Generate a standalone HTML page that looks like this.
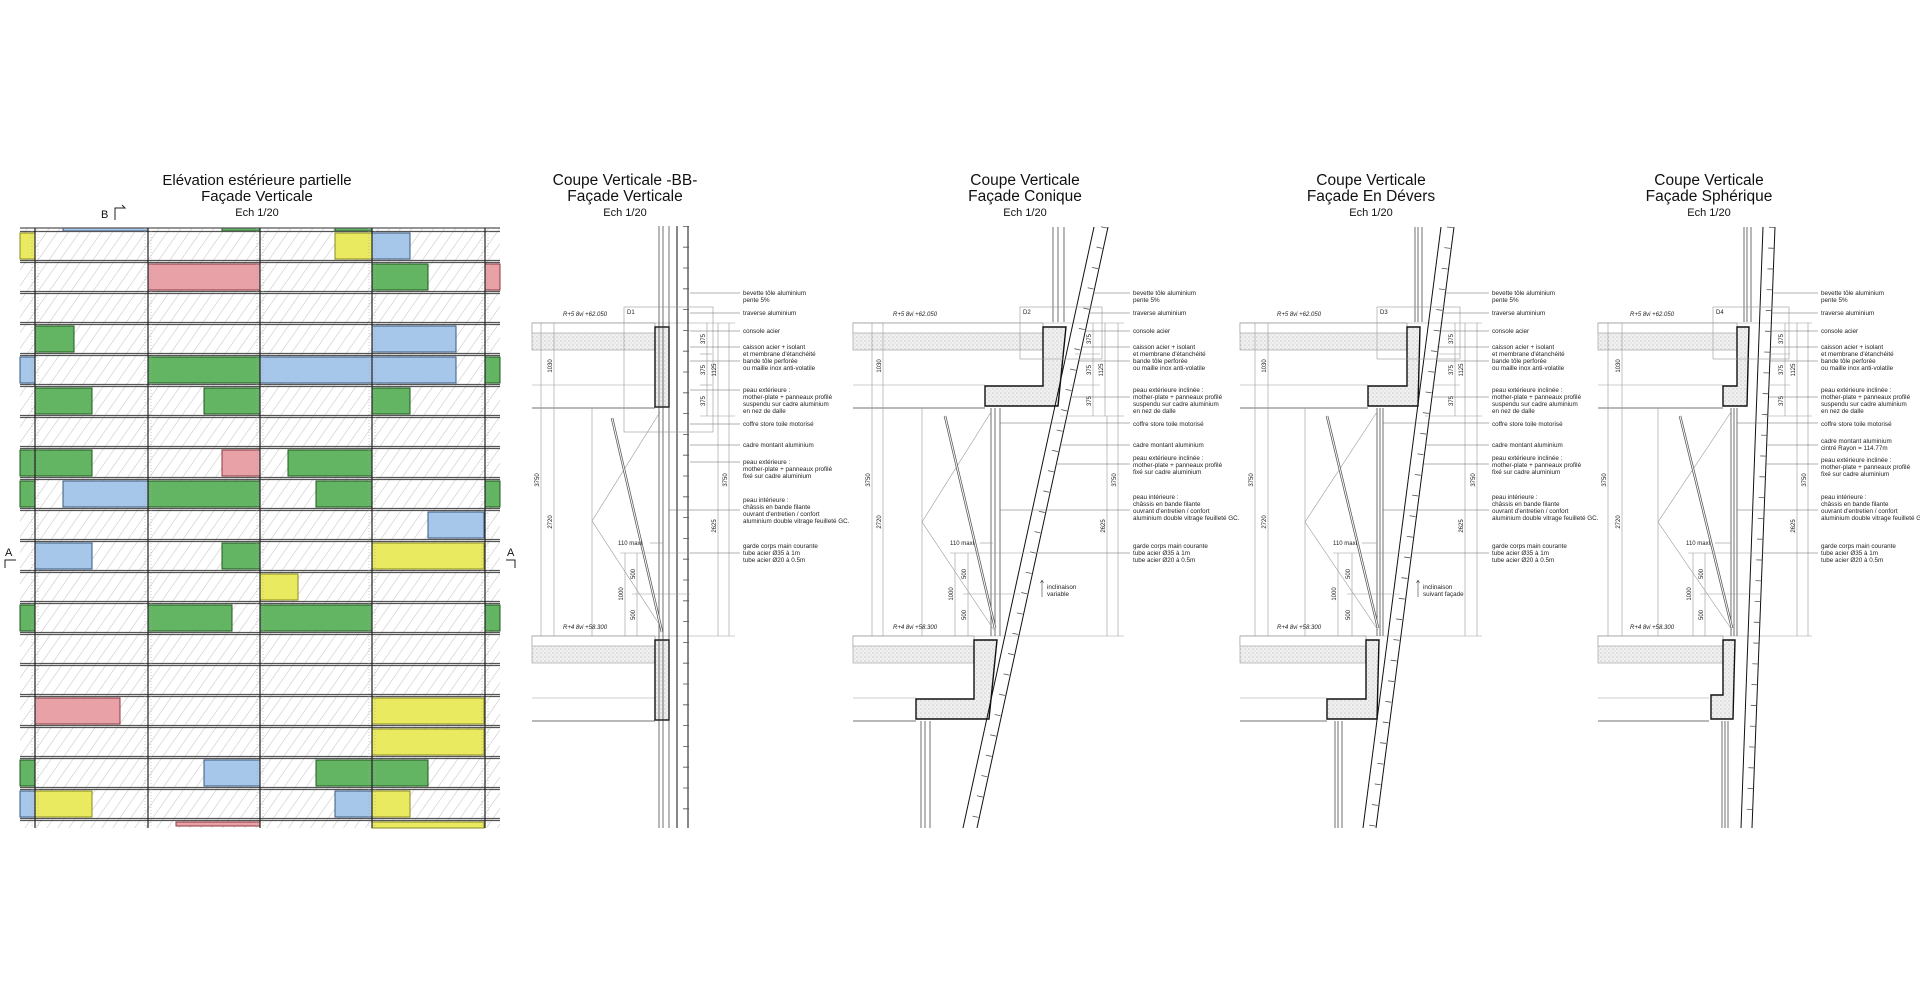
<!DOCTYPE html>
<html><head><meta charset="utf-8">
<style>
html,body{margin:0;padding:0;background:#fff;}
svg{display:block;}
.t{font-family:"Liberation Sans",sans-serif;fill:#111;}
.lb{font-family:"Liberation Sans",sans-serif;font-size:6.3px;fill:#222;}
.dm{font-family:"Liberation Sans",sans-serif;font-size:6px;fill:#222;}
.thin{stroke:#999;stroke-width:.6;fill:none;}
.med{stroke:#444;stroke-width:.8;fill:none;}
.blk{stroke:#111;stroke-width:1.4;}
.tk{stroke:#555;stroke-width:6;stroke-dasharray:.8 20;}
</style></head><body>
<svg width="1920" height="1000" viewBox="0 0 1920 1000" xmlns="http://www.w3.org/2000/svg">
<defs>
<pattern id="hat" width="9" height="9" patternUnits="userSpaceOnUse" patternTransform="rotate(35)">
<line x1="0" y1="0" x2="0" y2="9" stroke="#c4c4c4" stroke-width="1.1"/>
</pattern>
<pattern id="stp" width="4" height="4" patternUnits="userSpaceOnUse">
<rect width="4" height="4" fill="#f0f0f0"/><circle cx="1" cy="1" r=".6" fill="#bbb"/><circle cx="3" cy="3" r=".5" fill="#c6c6c6"/>
</pattern>
</defs>

<!-- ============ ELEVATION ============ -->
<text class="t" x="257" y="185" font-size="15" text-anchor="middle">Elévation estérieure partielle</text>
<text class="t" x="257" y="201" font-size="15" text-anchor="middle">Façade Verticale</text>
<text class="t" x="257" y="216" font-size="11" text-anchor="middle">Ech 1/20</text>
<text class="t" x="101" y="218" font-size="11">B</text>
<path d="M115 220 V208 H125 l-3 -3" stroke="#222" fill="none" stroke-width="1"/>

<rect x="20" y="228" width="480" height="600" fill="url(#hat)"/>
<g stroke-width="1">
<g fill="#e9ea5f" stroke="#8a8a20">
<rect x="20" y="233" width="15" height="26"/><rect x="335" y="233" width="37" height="26"/>
<rect x="372" y="543" width="112" height="26"/><rect x="260" y="574" width="38" height="26"/>
<rect x="372" y="698" width="112" height="26"/><rect x="372" y="729" width="112" height="26"/>
<rect x="35" y="791" width="57" height="26"/><rect x="372" y="791" width="38" height="26"/>
<rect x="372" y="822" width="112" height="6"/>
</g>
<g fill="#a7c7ea" stroke="#3a5a80">
<rect x="63" y="228" width="85" height="3"/>
<rect x="372" y="233" width="38" height="26"/><rect x="372" y="326" width="84" height="26"/>
<rect x="20" y="357" width="15" height="26"/><rect x="260" y="357" width="112" height="26"/><rect x="372" y="357" width="84" height="26"/>
<rect x="63" y="481" width="85" height="26"/><rect x="428" y="512" width="56" height="26"/>
<rect x="35" y="543" width="57" height="26"/><rect x="204" y="760" width="56" height="26"/>
<rect x="20" y="791" width="15" height="26"/><rect x="335" y="791" width="37" height="26"/>
</g>
<g fill="#63b463" stroke="#1f5a1f">
<rect x="222" y="228" width="38" height="3"/><rect x="335" y="228" width="37" height="3"/>
<rect x="372" y="264" width="56" height="26"/>
<rect x="35" y="326" width="39" height="26"/>
<rect x="148" y="357" width="112" height="26"/><rect x="485" y="357" width="15" height="26"/>
<rect x="35" y="388" width="57" height="26"/><rect x="204" y="388" width="56" height="26"/><rect x="372" y="388" width="38" height="26"/>
<rect x="20" y="450" width="15" height="26"/><rect x="35" y="450" width="57" height="26"/><rect x="288" y="450" width="84" height="26"/>
<rect x="20" y="481" width="15" height="26"/><rect x="148" y="481" width="112" height="26"/><rect x="316" y="481" width="56" height="26"/><rect x="485" y="481" width="15" height="26"/>
<rect x="222" y="543" width="38" height="26"/>
<rect x="20" y="605" width="15" height="26"/><rect x="148" y="605" width="84" height="26"/><rect x="260" y="605" width="112" height="26"/><rect x="485" y="605" width="15" height="26"/>
<rect x="20" y="760" width="15" height="26"/><rect x="316" y="760" width="56" height="26"/><rect x="372" y="760" width="56" height="26"/>
</g>
<g fill="#e9a1a8" stroke="#8a3a40">
<rect x="148" y="264" width="112" height="26"/><rect x="485" y="264" width="15" height="26"/>
<rect x="222" y="450" width="38" height="26"/><rect x="35" y="698" width="85" height="26"/>
<rect x="176" y="822" width="84" height="4"/>
</g>
</g>
<g stroke="#555" stroke-width="1.3">
<line x1="20" y1="228" x2="500" y2="228"/>
<line x1="20" y1="231.5" x2="500" y2="231.5"/><line x1="20" y1="260.5" x2="500" y2="260.5"/>
<line x1="20" y1="262.5" x2="500" y2="262.5"/><line x1="20" y1="291.5" x2="500" y2="291.5"/>
<line x1="20" y1="293.5" x2="500" y2="293.5"/><line x1="20" y1="322.5" x2="500" y2="322.5"/>
<line x1="20" y1="324.5" x2="500" y2="324.5"/><line x1="20" y1="353.5" x2="500" y2="353.5"/>
<line x1="20" y1="355.5" x2="500" y2="355.5"/><line x1="20" y1="384.5" x2="500" y2="384.5"/>
<line x1="20" y1="386.5" x2="500" y2="386.5"/><line x1="20" y1="415.5" x2="500" y2="415.5"/>
<line x1="20" y1="417.5" x2="500" y2="417.5"/><line x1="20" y1="446.5" x2="500" y2="446.5"/>
<line x1="20" y1="448.5" x2="500" y2="448.5"/><line x1="20" y1="477.5" x2="500" y2="477.5"/>
<line x1="20" y1="479.5" x2="500" y2="479.5"/><line x1="20" y1="508.5" x2="500" y2="508.5"/>
<line x1="20" y1="510.5" x2="500" y2="510.5"/><line x1="20" y1="539.5" x2="500" y2="539.5"/>
<line x1="20" y1="541.5" x2="500" y2="541.5"/><line x1="20" y1="570.5" x2="500" y2="570.5"/>
<line x1="20" y1="572.5" x2="500" y2="572.5"/><line x1="20" y1="601.5" x2="500" y2="601.5"/>
<line x1="20" y1="603.5" x2="500" y2="603.5"/><line x1="20" y1="632.5" x2="500" y2="632.5"/>
<line x1="20" y1="634.5" x2="500" y2="634.5"/><line x1="20" y1="663.5" x2="500" y2="663.5"/>
<line x1="20" y1="665.5" x2="500" y2="665.5"/><line x1="20" y1="694.5" x2="500" y2="694.5"/>
<line x1="20" y1="696.5" x2="500" y2="696.5"/><line x1="20" y1="725.5" x2="500" y2="725.5"/>
<line x1="20" y1="727.5" x2="500" y2="727.5"/><line x1="20" y1="756.5" x2="500" y2="756.5"/>
<line x1="20" y1="758.5" x2="500" y2="758.5"/><line x1="20" y1="787.5" x2="500" y2="787.5"/>
<line x1="20" y1="789.5" x2="500" y2="789.5"/><line x1="20" y1="818.5" x2="500" y2="818.5"/>
<line x1="20" y1="820.5" x2="500" y2="820.5"/>
</g>
<g stroke="#222" stroke-width="1.2">
<line x1="35" y1="228" x2="35" y2="828"/><line x1="148" y1="228" x2="148" y2="828"/>
<line x1="260" y1="228" x2="260" y2="828"/><line x1="372" y1="228" x2="372" y2="828"/>
<line x1="485" y1="228" x2="485" y2="828"/>
</g>
<g stroke="#aaa" stroke-width=".6" stroke-dasharray="1 2">
<line x1="32" y1="228" x2="32" y2="828"/><line x1="38" y1="228" x2="38" y2="828"/>
<line x1="145" y1="228" x2="145" y2="828"/><line x1="151" y1="228" x2="151" y2="828"/>
<line x1="257" y1="228" x2="257" y2="828"/><line x1="263" y1="228" x2="263" y2="828"/>
<line x1="369" y1="228" x2="369" y2="828"/><line x1="375" y1="228" x2="375" y2="828"/>
<line x1="482" y1="228" x2="482" y2="828"/><line x1="488" y1="228" x2="488" y2="828"/>
</g>
<text class="t" x="5" y="556" font-size="11">A</text>
<path d="M16 560 H5 V568" stroke="#222" fill="none"/>
<text class="t" x="507" y="556" font-size="11">A</text>
<path d="M506 560 H515 V568" stroke="#222" fill="none"/>

<!-- ============ SECTION 1 ============ -->
<text class="t" x="625" y="185" font-size="15.5" text-anchor="middle">Coupe Verticale -BB-</text>
<text class="t" x="625" y="201" font-size="15.5" text-anchor="middle">Façade Verticale</text>
<text class="t" x="625" y="216" font-size="11" text-anchor="middle">Ech 1/20</text>
<g>
<rect x="532" y="323" width="123" height="27" fill="url(#stp)" stroke="#999" stroke-width=".6"/>
<rect x="532" y="323" width="123" height="10" fill="#fff" stroke="#999" stroke-width=".6"/>
<line class="thin" x1="532" y1="385" x2="655" y2="385"/><line class="med" x1="532" y1="408" x2="655" y2="408"/>
<rect x="532" y="636" width="123" height="27" fill="url(#stp)" stroke="#999" stroke-width=".6"/>
<rect x="532" y="636" width="123" height="10" fill="#fff" stroke="#999" stroke-width=".6"/>
<line class="thin" x1="532" y1="698" x2="655" y2="698"/><line class="med" x1="532" y1="721" x2="655" y2="721"/>
<line class="thin" x1="532" y1="323" x2="735" y2="323"/><line class="thin" x1="532" y1="636" x2="735" y2="636"/>
<rect x="655" y="327" width="14" height="80" fill="url(#stp)" class="blk"/>
<rect x="655" y="640" width="14" height="80" fill="url(#stp)" class="blk"/>
<g stroke="#333" stroke-width=".7"><line x1="659" y1="226" x2="659" y2="828"/><line x1="663" y1="226" x2="663" y2="828"/><line x1="669" y1="226" x2="669" y2="828"/></g>
<line x1="677" y1="226" x2="677" y2="828" stroke="#111" stroke-width="1"/>
<line x1="688" y1="226" x2="688" y2="828" stroke="#111" stroke-width="1"/>
<line x1="686" y1="226" x2="686" y2="828" class="tk"/>
<rect x="624" y="307" width="89" height="125" class="thin"/>
<text class="dm" x="627" y="314">D1</text>
<line class="thin" x1="592" y1="408" x2="592" y2="636"/>
<polyline class="thin" points="660,412 592,521 663,630"/>
<line x1="612" y1="418" x2="662" y2="632" stroke="#555" stroke-width="2.5"/>
<line x1="612" y1="418" x2="662" y2="632" stroke="#fff" stroke-width="1"/>
<text class="dm" x="563" y="316" font-style="italic">R+5 8vi  +62.050</text>
<text class="dm" x="563" y="629" font-style="italic">R+4 8vi  +58.300</text>
</g>
<!-- ============ SECTION 2 ============ -->
<text class="t" x="1025" y="185" font-size="15.5" text-anchor="middle">Coupe Verticale</text>
<text class="t" x="1025" y="201" font-size="15.5" text-anchor="middle">Façade Conique</text>
<text class="t" x="1025" y="216" font-size="11" text-anchor="middle">Ech 1/20</text>
<g>
<rect x="853" y="323" width="190" height="27" fill="url(#stp)" stroke="#999" stroke-width=".6"/>
<rect x="853" y="323" width="190" height="10" fill="#fff" stroke="#999" stroke-width=".6"/>
<line class="thin" x1="853" y1="385" x2="985" y2="385"/><line class="med" x1="853" y1="408" x2="985" y2="408"/>
<rect x="853" y="636" width="121" height="27" fill="url(#stp)" stroke="#999" stroke-width=".6"/>
<rect x="853" y="636" width="121" height="10" fill="#fff" stroke="#999" stroke-width=".6"/>
<line class="thin" x1="853" y1="698" x2="916" y2="698"/><line class="med" x1="853" y1="721" x2="916" y2="721"/>
<line class="thin" x1="853" y1="323" x2="1124" y2="323"/><line class="thin" x1="853" y1="636" x2="1124" y2="636"/>
<polygon points="1043,327 1066,327 1058,406 985,406 985,386 1043,386" fill="url(#stp)" class="blk"/>
<polygon points="974,640 997,640 989,719 916,719 916,699 974,699" fill="url(#stp)" class="blk"/>
<g stroke="#333" stroke-width=".7">
<line x1="1053" y1="227" x2="1053" y2="322"/><line x1="1058" y1="227" x2="1058" y2="322"/><line x1="1064" y1="227" x2="1064" y2="322"/>
<line x1="991" y1="408" x2="991" y2="636"/><line x1="995" y1="408" x2="995" y2="636"/><line x1="1000" y1="408" x2="1000" y2="636"/>
<line x1="921" y1="721" x2="921" y2="828"/><line x1="925" y1="721" x2="925" y2="828"/><line x1="930" y1="721" x2="930" y2="828"/>
</g>
<line x1="1094" y1="227" x2="963" y2="828" stroke="#111" stroke-width="1"/>
<line x1="1108" y1="227" x2="977" y2="828" stroke="#111" stroke-width="1"/>
<line x1="1104" y1="227" x2="973" y2="828" class="tk"/>
<rect x="1020" y="307" width="82" height="52" class="thin"/>
<text class="dm" x="1023" y="314">D2</text>
<line class="thin" x1="922" y1="408" x2="922" y2="636"/>
<polyline class="thin" points="991,412 922,522 994,630"/>
<line x1="945" y1="416" x2="995" y2="628" stroke="#555" stroke-width="2.5"/>
<line x1="945" y1="416" x2="995" y2="628" stroke="#fff" stroke-width="1"/>
<text class="dm" x="893" y="316" font-style="italic">R+5 8vi  +62.050</text>
<text class="dm" x="893" y="629" font-style="italic">R+4 8vi  +58.300</text>
<path d="M1042 597 V580 l-1.5 3 M1042 580 l1.5 3" stroke="#444" fill="none" stroke-width=".6"/>
<text class="lb" x="1047" y="589">inclinaison</text><text class="lb" x="1047" y="596">variable</text>
</g>
<!-- ============ SECTION 3 ============ -->
<text class="t" x="1371" y="185" font-size="15.5" text-anchor="middle">Coupe Verticale</text>
<text class="t" x="1371" y="201" font-size="15.5" text-anchor="middle">Façade En Dévers</text>
<text class="t" x="1371" y="216" font-size="11" text-anchor="middle">Ech 1/20</text>
<g>
<rect x="1240" y="323" width="167" height="27" fill="url(#stp)" stroke="#999" stroke-width=".6"/>
<rect x="1240" y="323" width="167" height="10" fill="#fff" stroke="#999" stroke-width=".6"/>
<line class="thin" x1="1240" y1="385" x2="1368" y2="385"/><line class="med" x1="1240" y1="408" x2="1368" y2="408"/>
<rect x="1240" y="636" width="126" height="27" fill="url(#stp)" stroke="#999" stroke-width=".6"/>
<rect x="1240" y="636" width="126" height="10" fill="#fff" stroke="#999" stroke-width=".6"/>
<line class="thin" x1="1240" y1="698" x2="1327" y2="698"/><line class="med" x1="1240" y1="721" x2="1327" y2="721"/>
<line class="thin" x1="1240" y1="323" x2="1482" y2="323"/><line class="thin" x1="1240" y1="636" x2="1482" y2="636"/>
<polygon points="1407,327 1420,327 1418,406 1368,406 1368,386 1407,386" fill="url(#stp)" class="blk"/>
<polygon points="1366,640 1379,640 1377,719 1327,719 1327,699 1366,699" fill="url(#stp)" class="blk"/>
<g stroke="#333" stroke-width=".7">
<line x1="1415" y1="227" x2="1415" y2="322"/><line x1="1418" y1="227" x2="1418" y2="322"/><line x1="1422" y1="227" x2="1422" y2="322"/>
<line x1="1377" y1="408" x2="1377" y2="636"/><line x1="1380" y1="408" x2="1380" y2="636"/><line x1="1383" y1="408" x2="1383" y2="636"/>
<line x1="1335" y1="721" x2="1335" y2="828"/><line x1="1338" y1="721" x2="1338" y2="828"/><line x1="1342" y1="721" x2="1342" y2="828"/>
</g>
<line x1="1441" y1="227" x2="1363" y2="828" stroke="#111" stroke-width="1"/>
<line x1="1454" y1="227" x2="1376" y2="828" stroke="#111" stroke-width="1"/>
<line x1="1450" y1="227" x2="1372" y2="828" class="tk"/>
<rect x="1377" y="307" width="83" height="52" class="thin"/>
<text class="dm" x="1380" y="314">D3</text>
<line class="thin" x1="1305" y1="408" x2="1305" y2="636"/>
<polyline class="thin" points="1377,412 1305,522 1378,630"/>
<line x1="1327" y1="416" x2="1378" y2="628" stroke="#555" stroke-width="2.5"/>
<line x1="1327" y1="416" x2="1378" y2="628" stroke="#fff" stroke-width="1"/>
<text class="dm" x="1277" y="316" font-style="italic">R+5 8vi  +62.050</text>
<text class="dm" x="1277" y="629" font-style="italic">R+4 8vi  +58.300</text>
<path d="M1418 597 V580 l-1.5 3 M1418 580 l1.5 3" stroke="#444" fill="none" stroke-width=".6"/>
<text class="lb" x="1423" y="589">inclinaison</text><text class="lb" x="1423" y="596">suivant façade</text>
</g>
<!-- ============ SECTION 4 ============ -->
<text class="t" x="1709" y="185" font-size="15.5" text-anchor="middle">Coupe Verticale</text>
<text class="t" x="1709" y="201" font-size="15.5" text-anchor="middle">Façade Sphérique</text>
<text class="t" x="1709" y="216" font-size="11" text-anchor="middle">Ech 1/20</text>
<g>
<rect x="1598" y="323" width="139" height="27" fill="url(#stp)" stroke="#999" stroke-width=".6"/>
<rect x="1598" y="323" width="139" height="10" fill="#fff" stroke="#999" stroke-width=".6"/>
<line class="thin" x1="1598" y1="385" x2="1723" y2="385"/><line class="med" x1="1598" y1="408" x2="1723" y2="408"/>
<rect x="1598" y="636" width="125" height="27" fill="url(#stp)" stroke="#999" stroke-width=".6"/>
<rect x="1598" y="636" width="125" height="10" fill="#fff" stroke="#999" stroke-width=".6"/>
<line class="thin" x1="1598" y1="698" x2="1709" y2="698"/><line class="med" x1="1598" y1="721" x2="1709" y2="721"/>
<line class="thin" x1="1598" y1="323" x2="1812" y2="323"/><line class="thin" x1="1598" y1="636" x2="1812" y2="636"/>
<polygon points="1737,327 1749,327 1747,406 1723,406 1723,386 1737,386" fill="url(#stp)" class="blk"/>
<polygon points="1723,640 1735,640 1733,719 1711,719 1711,695 1723,695" fill="url(#stp)" class="blk"/>
<g stroke="#333" stroke-width=".7">
<line x1="1744" y1="227" x2="1744" y2="322"/><line x1="1747" y1="227" x2="1747" y2="322"/><line x1="1751" y1="227" x2="1751" y2="322"/>
<line x1="1731" y1="408" x2="1731" y2="636"/><line x1="1734" y1="408" x2="1734" y2="636"/><line x1="1737" y1="408" x2="1737" y2="636"/>
<line x1="1722" y1="721" x2="1722" y2="828"/><line x1="1725" y1="721" x2="1725" y2="828"/><line x1="1728" y1="721" x2="1728" y2="828"/>
</g>
<line x1="1763" y1="227" x2="1741" y2="828" stroke="#111" stroke-width="1"/>
<line x1="1775" y1="227" x2="1752" y2="828" stroke="#111" stroke-width="1"/>
<line x1="1772" y1="227" x2="1749" y2="828" class="tk"/>
<rect x="1713" y="307" width="76" height="52" class="thin"/>
<text class="dm" x="1716" y="314">D4</text>
<line class="thin" x1="1658" y1="408" x2="1658" y2="636"/>
<polyline class="thin" points="1731,412 1658,522 1732,630"/>
<line x1="1680" y1="416" x2="1732" y2="628" stroke="#555" stroke-width="2.5"/>
<line x1="1680" y1="416" x2="1732" y2="628" stroke="#fff" stroke-width="1"/>
<text class="dm" x="1630" y="316" font-style="italic">R+5 8vi  +62.050</text>
<text class="dm" x="1630" y="629" font-style="italic">R+4 8vi  +58.300</text>
</g>

<!-- ============ DIMENSIONS ============ -->
<g class="thin" stroke="#777">
<line x1="541" y1="323" x2="541" y2="636"/><line x1="554" y1="323" x2="554" y2="636"/>
<line x1="707" y1="323" x2="707" y2="416"/><line x1="718" y1="323" x2="718" y2="636"/><line x1="729" y1="323" x2="729" y2="636"/>
<line x1="625" y1="553" x2="625" y2="636"/><line x1="637" y1="553" x2="637" y2="636"/>
<line x1="620" y1="553" x2="690" y2="553"/><line x1="632" y1="594" x2="690" y2="594"/>
<line x1="650" y1="543" x2="663" y2="543"/><line x1="700" y1="416" x2="735" y2="416"/><line x1="700" y1="354" x2="712" y2="354"/><line x1="700" y1="385" x2="712" y2="385"/>
<line x1="872" y1="323" x2="872" y2="636"/><line x1="883" y1="323" x2="883" y2="636"/>
<line x1="1093" y1="323" x2="1093" y2="416"/><line x1="1105" y1="323" x2="1105" y2="416"/><line x1="1107" y1="416" x2="1107" y2="636"/><line x1="1118" y1="323" x2="1118" y2="636"/>
<line x1="955" y1="553" x2="955" y2="636"/><line x1="968" y1="553" x2="968" y2="636"/>
<line x1="950" y1="553" x2="1030" y2="553"/><line x1="963" y1="594" x2="1020" y2="594"/>
<line x1="980" y1="543" x2="993" y2="543"/><line x1="1060" y1="416" x2="1124" y2="416"/><line x1="1075" y1="354" x2="1100" y2="354"/><line x1="1070" y1="385" x2="1100" y2="385"/>
<line x1="1255" y1="323" x2="1255" y2="636"/><line x1="1268" y1="323" x2="1268" y2="636"/>
<line x1="1455" y1="323" x2="1455" y2="416"/><line x1="1465" y1="323" x2="1465" y2="636"/><line x1="1477" y1="323" x2="1477" y2="636"/>
<line x1="1338" y1="553" x2="1338" y2="636"/><line x1="1352" y1="553" x2="1352" y2="636"/>
<line x1="1333" y1="553" x2="1410" y2="553"/><line x1="1347" y1="594" x2="1400" y2="594"/>
<line x1="1362" y1="543" x2="1377" y2="543"/><line x1="1425" y1="416" x2="1482" y2="416"/><line x1="1437" y1="354" x2="1460" y2="354"/><line x1="1432" y1="385" x2="1460" y2="385"/>
<line x1="1608" y1="323" x2="1608" y2="636"/><line x1="1622" y1="323" x2="1622" y2="636"/>
<line x1="1785" y1="323" x2="1785" y2="416"/><line x1="1797" y1="323" x2="1797" y2="636"/><line x1="1808" y1="323" x2="1808" y2="636"/>
<line x1="1693" y1="553" x2="1693" y2="636"/><line x1="1705" y1="553" x2="1705" y2="636"/>
<line x1="1688" y1="553" x2="1765" y2="553"/><line x1="1700" y1="594" x2="1760" y2="594"/>
<line x1="1715" y1="543" x2="1731" y2="543"/><line x1="1765" y1="416" x2="1812" y2="416"/><line x1="1770" y1="354" x2="1790" y2="354"/><line x1="1768" y1="385" x2="1790" y2="385"/>
</g>
<g class="dm" text-anchor="middle">
<text transform="translate(539,480) rotate(-90)">3750</text>
<text transform="translate(552,366) rotate(-90)">1030</text>
<text transform="translate(552,522) rotate(-90)">2720</text>
<text transform="translate(705,339) rotate(-90)">375</text><text transform="translate(705,370) rotate(-90)">375</text><text transform="translate(705,401) rotate(-90)">375</text>
<text transform="translate(716,370) rotate(-90)">1125</text><text transform="translate(716,526) rotate(-90)">2625</text>
<text transform="translate(727,480) rotate(-90)">3750</text>
<text transform="translate(623,594) rotate(-90)">1000</text><text transform="translate(635,574) rotate(-90)">500</text><text transform="translate(635,615) rotate(-90)">500</text>
<text x="630" y="545">110 maxi</text>

<text transform="translate(870,480) rotate(-90)">3750</text>
<text transform="translate(881,366) rotate(-90)">1030</text>
<text transform="translate(881,522) rotate(-90)">2720</text>
<text transform="translate(1091,339) rotate(-90)">375</text><text transform="translate(1091,370) rotate(-90)">375</text><text transform="translate(1091,401) rotate(-90)">375</text>
<text transform="translate(1103,370) rotate(-90)">1125</text><text transform="translate(1105,526) rotate(-90)">2625</text>
<text transform="translate(1116,480) rotate(-90)">3750</text>
<text transform="translate(953,594) rotate(-90)">1000</text><text transform="translate(966,574) rotate(-90)">500</text><text transform="translate(966,615) rotate(-90)">500</text>
<text x="962" y="545">110 maxi</text>

<text transform="translate(1253,480) rotate(-90)">3750</text>
<text transform="translate(1266,366) rotate(-90)">1030</text>
<text transform="translate(1266,522) rotate(-90)">2720</text>
<text transform="translate(1453,339) rotate(-90)">375</text><text transform="translate(1453,370) rotate(-90)">375</text><text transform="translate(1453,401) rotate(-90)">375</text>
<text transform="translate(1463,370) rotate(-90)">1125</text><text transform="translate(1463,526) rotate(-90)">2625</text>
<text transform="translate(1475,480) rotate(-90)">3750</text>
<text transform="translate(1336,594) rotate(-90)">1000</text><text transform="translate(1350,574) rotate(-90)">500</text><text transform="translate(1350,615) rotate(-90)">500</text>
<text x="1345" y="545">110 maxi</text>

<text transform="translate(1606,480) rotate(-90)">3750</text>
<text transform="translate(1620,366) rotate(-90)">1030</text>
<text transform="translate(1620,522) rotate(-90)">2720</text>
<text transform="translate(1783,339) rotate(-90)">375</text><text transform="translate(1783,370) rotate(-90)">375</text><text transform="translate(1783,401) rotate(-90)">375</text>
<text transform="translate(1795,370) rotate(-90)">1125</text><text transform="translate(1795,526) rotate(-90)">2625</text>
<text transform="translate(1806,480) rotate(-90)">3750</text>
<text transform="translate(1691,594) rotate(-90)">1000</text><text transform="translate(1703,574) rotate(-90)">500</text><text transform="translate(1703,615) rotate(-90)">500</text>
<text x="1698" y="545">110 maxi</text>
</g>

<!-- ============ LEADERS ============ -->
<g stroke="#666" stroke-width=".6">
<line x1="690" y1="293" x2="740" y2="293"/><line x1="690" y1="313" x2="740" y2="313"/><line x1="690" y1="331" x2="740" y2="331"/><line x1="690" y1="347" x2="740" y2="347"/><line x1="690" y1="361" x2="740" y2="361"/><line x1="690" y1="390" x2="740" y2="390"/><line x1="690" y1="424" x2="740" y2="424"/><line x1="690" y1="445" x2="740" y2="445"/><line x1="690" y1="462" x2="740" y2="462"/><line x1="669" y1="510" x2="740" y2="510"/><line x1="690" y1="553" x2="740" y2="553"/>
<line x1="1093" y1="293" x2="1130" y2="293"/><line x1="1089" y1="313" x2="1130" y2="313"/><line x1="1085" y1="331" x2="1130" y2="331"/><line x1="1082" y1="347" x2="1130" y2="347"/><line x1="1079" y1="361" x2="1130" y2="361"/><line x1="1072" y1="397" x2="1130" y2="397"/><line x1="1000" y1="423" x2="1130" y2="423"/><line x1="1060" y1="445" x2="1130" y2="445"/><line x1="1056" y1="464" x2="1130" y2="464"/><line x1="1000" y1="510" x2="1130" y2="510"/><line x1="1038" y1="553" x2="1130" y2="553"/>
<line x1="1444" y1="293" x2="1489" y2="293"/><line x1="1442" y1="313" x2="1489" y2="313"/><line x1="1439" y1="331" x2="1489" y2="331"/><line x1="1437" y1="347" x2="1489" y2="347"/><line x1="1436" y1="361" x2="1489" y2="361"/><line x1="1432" y1="397" x2="1489" y2="397"/><line x1="1383" y1="423" x2="1489" y2="423"/><line x1="1425" y1="445" x2="1489" y2="445"/><line x1="1422" y1="464" x2="1489" y2="464"/><line x1="1383" y1="510" x2="1489" y2="510"/><line x1="1412" y1="553" x2="1489" y2="553"/>
<line x1="1772" y1="293" x2="1818" y2="293"/><line x1="1772" y1="313" x2="1818" y2="313"/><line x1="1771" y1="331" x2="1818" y2="331"/><line x1="1770" y1="347" x2="1818" y2="347"/><line x1="1770" y1="361" x2="1818" y2="361"/><line x1="1769" y1="397" x2="1818" y2="397"/><line x1="1737" y1="423" x2="1818" y2="423"/><line x1="1767" y1="445" x2="1818" y2="445"/><line x1="1766" y1="464" x2="1818" y2="464"/><line x1="1737" y1="510" x2="1818" y2="510"/><line x1="1763" y1="553" x2="1818" y2="553"/>
</g>

<!-- ============ LABELS ============ -->
<text class="lb" x="743" y="295">bevette tôle aluminium<tspan x="743" dy="7">pente 5%</tspan><tspan x="743" y="315">traverse aluminium</tspan><tspan x="743" y="333">console acier</tspan><tspan x="743" y="349">caisson acier + isolant</tspan><tspan x="743" dy="7">et membrane d'étanchéité</tspan><tspan x="743" y="363">bande tôle perforée</tspan><tspan x="743" dy="7">ou maille inox anti-volatile</tspan><tspan x="743" y="392">peau extérieure :</tspan><tspan x="743" dy="7">mother-plate + panneaux profilé</tspan><tspan x="743" dy="7">suspendu sur cadre aluminium</tspan><tspan x="743" dy="7">en nez de dalle</tspan><tspan x="743" y="426">coffre store toile motorisé</tspan><tspan x="743" y="447">cadre montant aluminium</tspan><tspan x="743" y="464">peau extérieure :</tspan><tspan x="743" dy="7">mother-plate + panneaux profilé</tspan><tspan x="743" dy="7">fixé sur cadre aluminium</tspan><tspan x="743" y="502">peau intérieure :</tspan><tspan x="743" dy="7">châssis en bande filante</tspan><tspan x="743" dy="7">ouvrant d'entretien / confort</tspan><tspan x="743" dy="7">aluminium double vitrage feuilleté GC.</tspan><tspan x="743" y="548">garde corps main courante</tspan><tspan x="743" dy="7">tube acier Ø35 à 1m</tspan><tspan x="743" dy="7">tube acier Ø20 à 0.5m</tspan></text>

<text class="lb" x="1133" y="295">bevette tôle aluminium<tspan x="1133" dy="7">pente 5%</tspan><tspan x="1133" y="315">traverse aluminium</tspan><tspan x="1133" y="333">console acier</tspan><tspan x="1133" y="349">caisson acier + isolant</tspan><tspan x="1133" dy="7">et membrane d'étanchéité</tspan><tspan x="1133" y="363">bande tôle perforée</tspan><tspan x="1133" dy="7">ou maille inox anti-volatile</tspan><tspan x="1133" y="392">peau extérieure inclinée :</tspan><tspan x="1133" dy="7">mother-plate + panneaux profilé</tspan><tspan x="1133" dy="7">suspendu sur cadre aluminium</tspan><tspan x="1133" dy="7">en nez de dalle</tspan><tspan x="1133" y="426">coffre store toile motorisé</tspan><tspan x="1133" y="447">cadre montant aluminium</tspan><tspan x="1133" y="460">peau extérieure inclinée :</tspan><tspan x="1133" dy="7">mother-plate + panneaux profilé</tspan><tspan x="1133" dy="7">fixé sur cadre aluminium</tspan><tspan x="1133" y="499">peau intérieure :</tspan><tspan x="1133" dy="7">châssis en bande filante</tspan><tspan x="1133" dy="7">ouvrant d'entretien / confort</tspan><tspan x="1133" dy="7">aluminium double vitrage feuilleté GC.</tspan><tspan x="1133" y="548">garde corps main courante</tspan><tspan x="1133" dy="7">tube acier Ø35 à 1m</tspan><tspan x="1133" dy="7">tube acier Ø20 à 0.5m</tspan></text>

<text class="lb" x="1492" y="295">bevette tôle aluminium<tspan x="1492" dy="7">pente 5%</tspan><tspan x="1492" y="315">traverse aluminium</tspan><tspan x="1492" y="333">console acier</tspan><tspan x="1492" y="349">caisson acier + isolant</tspan><tspan x="1492" dy="7">et membrane d'étanchéité</tspan><tspan x="1492" y="363">bande tôle perforée</tspan><tspan x="1492" dy="7">ou maille inox anti-volatile</tspan><tspan x="1492" y="392">peau extérieure inclinée :</tspan><tspan x="1492" dy="7">mother-plate + panneaux profilé</tspan><tspan x="1492" dy="7">suspendu sur cadre aluminium</tspan><tspan x="1492" dy="7">en nez de dalle</tspan><tspan x="1492" y="426">coffre store toile motorisé</tspan><tspan x="1492" y="447">cadre montant aluminium</tspan><tspan x="1492" y="460">peau extérieure inclinée :</tspan><tspan x="1492" dy="7">mother-plate + panneaux profilé</tspan><tspan x="1492" dy="7">fixé sur cadre aluminium</tspan><tspan x="1492" y="499">peau intérieure :</tspan><tspan x="1492" dy="7">châssis en bande filante</tspan><tspan x="1492" dy="7">ouvrant d'entretien / confort</tspan><tspan x="1492" dy="7">aluminium double vitrage feuilleté GC.</tspan><tspan x="1492" y="548">garde corps main courante</tspan><tspan x="1492" dy="7">tube acier Ø35 à 1m</tspan><tspan x="1492" dy="7">tube acier Ø20 à 0.5m</tspan></text>

<text class="lb" x="1821" y="295">bevette tôle aluminium<tspan x="1821" dy="7">pente 5%</tspan><tspan x="1821" y="315">traverse aluminium</tspan><tspan x="1821" y="333">console acier</tspan><tspan x="1821" y="349">caisson acier + isolant</tspan><tspan x="1821" dy="7">et membrane d'étanchéité</tspan><tspan x="1821" y="363">bande tôle perforée</tspan><tspan x="1821" dy="7">ou maille inox anti-volatile</tspan><tspan x="1821" y="392">peau extérieure inclinée :</tspan><tspan x="1821" dy="7">mother-plate + panneaux profilé</tspan><tspan x="1821" dy="7">suspendu sur cadre aluminium</tspan><tspan x="1821" dy="7">en nez de dalle</tspan><tspan x="1821" y="426">coffre store toile motorisé</tspan><tspan x="1821" y="443">cadre montant aluminium</tspan><tspan x="1821" dy="7">cintré Rayon = 114.77m</tspan><tspan x="1821" y="462">peau extérieure inclinée :</tspan><tspan x="1821" dy="7">mother-plate + panneaux profilé</tspan><tspan x="1821" dy="7">fixé sur cadre aluminium</tspan><tspan x="1821" y="499">peau intérieure :</tspan><tspan x="1821" dy="7">châssis en bande filante</tspan><tspan x="1821" dy="7">ouvrant d'entretien / confort</tspan><tspan x="1821" dy="7">aluminium double vitrage feuilleté GC.</tspan><tspan x="1821" y="548">garde corps main courante</tspan><tspan x="1821" dy="7">tube acier Ø35 à 1m</tspan><tspan x="1821" dy="7">tube acier Ø20 à 0.5m</tspan></text>
</svg>
</body></html>
